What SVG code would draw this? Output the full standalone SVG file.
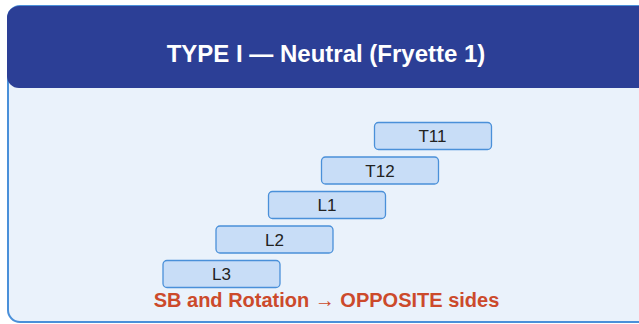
<svg xmlns="http://www.w3.org/2000/svg" width="639" height="324" viewBox="0 0 639 324">
  <style>
    .panel { fill: #eaf2fb; stroke: #4a90d9; stroke-width: 2; }
    .header { fill: #2c3f96; }
    .title { font-family: "Liberation Sans", Arial, sans-serif; font-size: 24px; font-weight: bold; fill: #ffffff; text-anchor: middle; }
    .seg rect { fill: #c8ddf7; stroke: #4a90d9; stroke-width: 1.3; }
    .seg text { font-family: "Liberation Sans", Arial, sans-serif; font-size: 17px; fill: #222222; text-anchor: middle; }
    .note { font-family: "Liberation Sans", Arial, sans-serif; font-size: 20px; font-weight: bold; fill: #cc4a2b; text-anchor: middle; }
  </style>

  <!-- card -->
  <rect class="panel" x="8" y="6" width="660" height="316" rx="12"/>
  <rect class="header" x="7" y="6" width="660" height="82" rx="12"/>
  <text class="title" x="326" y="62">TYPE I — Neutral (Fryette 1)</text>

  <!-- vertebral segments, stepped -->
  <g id="T11" class="seg">
    <rect x="374.5" y="122.5" width="117" height="27" rx="4"/>
    <text x="432.5" y="142">T11</text>
  </g>
  <g id="T12" class="seg">
    <rect x="321.5" y="157" width="117" height="27" rx="4"/>
    <text x="380" y="176.5">T12</text>
  </g>
  <g id="L1" class="seg">
    <rect x="268.5" y="191.5" width="117" height="27" rx="4"/>
    <text x="327" y="211">L1</text>
  </g>
  <g id="L2" class="seg">
    <rect x="216" y="226" width="117" height="27" rx="4"/>
    <text x="274.5" y="245.5">L2</text>
  </g>
  <g id="L3" class="seg">
    <rect x="163" y="260.5" width="117" height="27" rx="4"/>
    <text x="221.5" y="280">L3</text>
  </g>
  <g id="connectors"/>

  <text class="note" x="326.5" y="306.5">SB and Rotation → OPPOSITE sides</text>
</svg>
